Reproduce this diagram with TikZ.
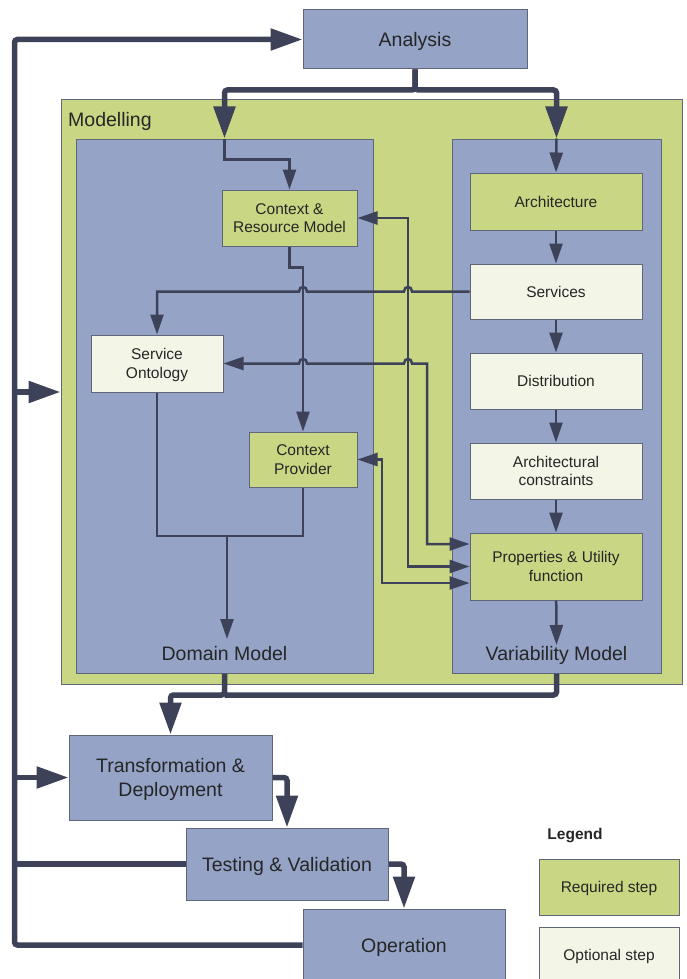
\documentclass[tikz,border=0pt]{standalone}
\usepackage{fontspec}
\setmainfont{Liberation Sans}
\usetikzlibrary{arrows.meta,calc}
\definecolor{bluebox}{HTML}{94A3C6}
\definecolor{greenbox}{HTML}{C9D683}
\definecolor{lightbox}{HTML}{F3F6E6}
\definecolor{linec}{HTML}{3D4259}
\definecolor{borderc}{HTML}{5F6677}
\definecolor{textc}{HTML}{262626}
\begin{document}
\begin{tikzpicture}[x=1pt,y=-1pt,
  box/.style={draw=borderc, line width=1pt, rectangle, inner sep=0pt, align=center, text=textc, text depth=0pt},
  bigbox/.style={box, fill=bluebox, font=\fontsize{19.5}{24}\selectfont},
  reqbox/.style={box, fill=greenbox, font=\fontsize{15.5}{18.5}\selectfont},
  optbox/.style={box, fill=lightbox, font=\fontsize{15.5}{18.5}\selectfont},
  bigtext/.style={inner sep=0pt, text=textc, text depth=0pt, font=\fontsize{19.5}{24}\selectfont},
  thickline/.style={draw=linec, line width=5.5pt, rounded corners=3pt},
  thickarrow/.style={thickline, -{Triangle[length=32pt,width=21pt]}},
  thinline/.style={draw=linec, line width=2.5pt},
  thinarrow/.style={thinline, -{Triangle[length=20pt,width=13pt]}},
  twoway/.style={thinline, {Triangle[length=20pt,width=13pt]}-{Triangle[length=20pt,width=13pt]}},
]
\useasboundingbox (0,0) rectangle (686,979);
\clip (0,0) rectangle (686,979);

% containers
\node[box, fill=greenbox, minimum width=621pt, minimum height=584pt] (mod) at (371.5,392) {};
\node[box, fill=bluebox, minimum width=297pt, minimum height=534pt] (dom) at (224.5,406) {};
\node[box, fill=bluebox, minimum width=209pt, minimum height=534pt] (var) at (556.5,406) {};
\node[bigtext, anchor=west] (modlbl) at (68,119) {Modelling};
\node[bigtext] (domlbl) at (224.5,653) {Domain Model};
\node[bigtext] (varlbl) at (556.5,653) {Variability Model};

% main steps
\node[bigbox, minimum width=224pt, minimum height=59pt] (ana) at (415,39.5) {Analysis};
\node[bigbox, minimum width=203pt, minimum height=85pt] (td) at (170.5,777.5) {Transformation \&\\Deployment};
\node[bigbox, minimum width=202pt, minimum height=72pt] (tv) at (287,864) {Testing \& Validation};
\node[bigbox, minimum width=202pt, minimum height=72pt] (op) at (404,945) {Operation};

% domain model
\node[reqbox, minimum width=135pt, minimum height=56pt] (crm) at (289.5,218) {Context \&\\Resource Model};
\node[optbox, minimum width=132pt, minimum height=57pt] (so) at (157,363.5) {Service\\Ontology};
\node[reqbox, minimum width=108pt, minimum height=55pt] (cp) at (303,459.5) {Context\\Provider};

% variability model
\node[reqbox, minimum width=172pt, minimum height=57pt] (arch) at (556,201.5) {Architecture};
\node[optbox, minimum width=172pt, minimum height=55pt] (serv) at (556,291.5) {Services};
\node[optbox, minimum width=172pt, minimum height=56pt] (dist) at (556,381) {Distribution};
\node[optbox, minimum width=172pt, minimum height=56pt] (ac) at (556,471) {Architectural\\constraints};
\node[reqbox, minimum width=172pt, minimum height=67pt] (pu) at (556,566.5) {Properties \& Utility\\function};

% legend
\node[inner sep=0pt, text=textc, text depth=0pt, font=\fontsize{15.5}{18}\selectfont\bfseries] (leg) at (575,834) {Legend};
\node[reqbox, minimum width=140pt, minimum height=56pt] (lreq) at (609,887) {Required step};
\node[optbox, minimum width=140pt, minimum height=56pt] (lopt) at (609,955) {Optional step};

\coordinate (split) at (415,90);
\coordinate (varend) at (556.5,645);
\coordinate (domend) at (227,639);
\coordinate (join) at (227,536);
\coordinate (merge) at (224.5,695);
\coordinate (fb) at (14.5,945);

% thick flow
\draw[thickarrow] (ana.south) -- (split) -| (dom.north);
\draw[thickarrow] (ana.south) -- (split) -| (var.north);
\draw[thickline] (var.south) |- (merge);
\draw[thickarrow] (dom.south) -- (merge) -| (td.north);
\draw[thickarrow] (td.east) -| (tv.north);
\draw[thickarrow] (tv.east) -| (op.north);
\draw[thickarrow] (op.west) -- (fb) |- (ana.west);
\draw[thickline] (tv.west) -- (tv.west -| fb);
\draw[thickarrow] (mod.west -| fb) -- (mod.west);
\draw[thickarrow] (td.west -| fb) -- (td.west);

% thin flow, domain model
\draw[thinarrow] (dom.north) -- ++(0,21) -| (crm.north);
\draw[thinarrow] (crm.south) -- ++(0,21) -| (cp.north);
\draw[thinline] (so.south) |- (join) -| (cp.south);
\draw[thinarrow] (join) -- (domend);

% thin flow, variability model
\draw[thinarrow] (var.north) -- (arch.north);
\draw[thinarrow] (arch) -- (serv);
\draw[thinarrow] (serv) -- (dist);
\draw[thinarrow] (dist) -- (ac);
\draw[thinarrow] (ac) -- (pu);
\draw[thinarrow] (pu) -- (varend);

% cross links
\draw[thinarrow] (serv.west) -- (412,291.5) .. controls (412,285.5) and (404,285.5) .. (404,291.5)
  -- (307,291.5) .. controls (307,285.5) and (299,285.5) .. (299,291.5) -| (so.north);
\draw[twoway] (pu.west) -| (408,218) -- (crm.east);
\draw[twoway] ([yshift=22.5pt]pu.west) -| (427,363.5) -- (412,363.5) .. controls (412,357.5) and (404,357.5) .. (404,363.5)
  -- (307,363.5) .. controls (307,357.5) and (299,357.5) .. (299,363.5) -- (so.east);
\draw[twoway] ([yshift=-16.5pt]pu.west) -| (382,459.5) -- (cp.east);
\end{tikzpicture}
\end{document}
